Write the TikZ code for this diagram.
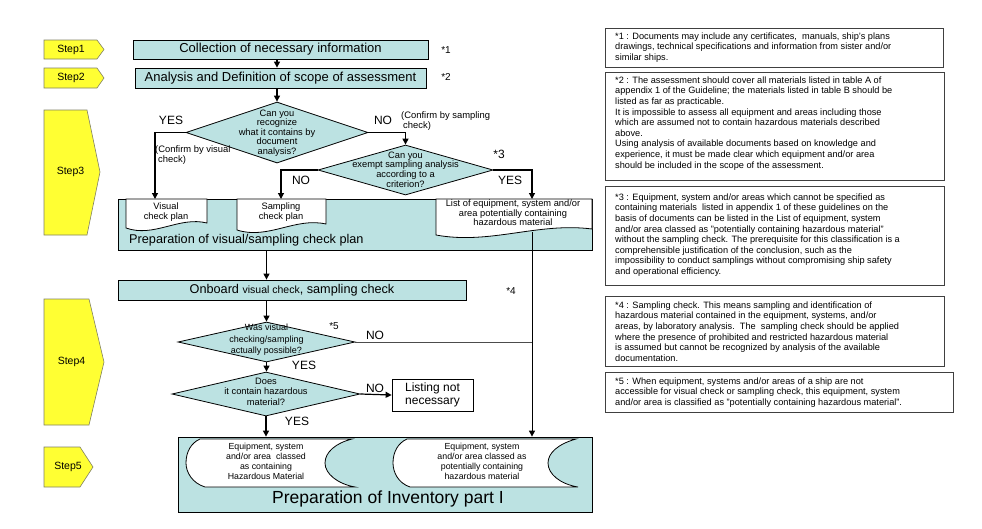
\documentclass[tikz,border=0pt]{standalone}
\usepackage{fontspec}
\setmainfont{Liberation Sans}
\usetikzlibrary{shapes.geometric,arrows.meta,calc}
\definecolor{boxfill}{RGB}{188,226,226}
\definecolor{stepfill}{RGB}{255,255,51}
\definecolor{stepline}{RGB}{128,128,100}
\begin{document}
\begin{tikzpicture}[x=1pt,y=-1pt,
  proc/.style={draw=black,line width=0.8pt,fill=boxfill,inner sep=0pt},
  dia/.style={diamond,draw=black,line width=0.8pt,fill=boxfill,inner sep=0pt},
  stepshape/.style={draw=stepline,line width=0.6pt,fill=stepfill},
  docshape/.style={draw=black,line width=0.8pt,fill=white},
  notebox/.style={draw=black!75,line width=0.8pt,inner sep=0pt},
  arr/.style={line width=1.2pt,-{Triangle[length=6pt,width=6pt]}},
  thinline/.style={line width=0.6pt,draw=black!70},
  f/.style 2 args={font=\fontsize{#1}{#2}\selectfont},
  ntext/.style={f={9.2}{10.6},align=left,anchor=north west,inner sep=0pt},
  dtext/.style={f={9.3}{9.6},align=center,inner sep=0pt},
  yn/.style={f={12}{14},inner sep=0pt},
  star/.style={f={10}{12},inner sep=0pt},
  steptext/.style={f={10.5}{12},inner sep=0pt}
]
\useasboundingbox (0,0) rectangle (982,528);

% ---------- step markers ----------
\draw[stepshape] (44,40) -- (97,40) -- (104,49.5) -- (97,59) -- (44,59) -- cycle;
\node[steptext] (s1) at (71,49.5) {Step1};
\draw[stepshape] (44,68) -- (97,68) -- (104,78) -- (97,88) -- (44,88) -- cycle;
\node[steptext] (s2) at (71,78) {Step2};
\draw[stepshape] (44,110) -- (87,110) -- (100,172) -- (87,235) -- (44,235) -- cycle;
\node[steptext] (s3) at (70.5,172) {Step3};
\draw[stepshape] (44,299) -- (89,299) -- (104,362) -- (89,425) -- (44,425) -- cycle;
\node[steptext] (s4) at (71.5,362) {Step4};
\draw[stepshape] (44,447) -- (80,447) -- (93,467) -- (80,487) -- (44,487) -- cycle;
\node[steptext] (s5) at (68,467) {Step5};

% ---------- top boxes ----------
\node[proc,minimum width=295,minimum height=19,f={13}{15}] (b1) at (280.5,49.5) {Collection of necessary information};
\node[proc,minimum width=291,minimum height=20,f={13}{15}] (b2) at (280.5,78) {Analysis and Definition of scope of assessment};
\node[star] (st1) at (446,50) {*1};
\node[star] (st2) at (446,77) {*2};

% ---------- diamonds 1 and 2 ----------
\node[dia,minimum width=182,minimum height=61] (d1) at (277,132.5) {};
\node[dtext] (d1t) at (277,133) {Can you\\recognize\\what it contains by\\document\\analysis?};
\node[dia,minimum width=175,minimum height=50] (d2) at (405.5,170) {};
\node[dtext] (d2t) at (405.5,169.5) {Can you\\exempt sampling analysis\\according to a\\criterion?};

\draw[arr] (b1.south -| d1.north) -- (b2.north -| d1.north);
\draw[arr] (b2.south -| d1.north) -- (d1.north);

\node[yn] (y1) at (171,120) {YES};
\node[yn] (n1) at (383,120) {NO};
\node[f={9.4}{10},align=left,anchor=west,inner sep=0pt] (c1) at (401,121) {(Confirm by sampling\\\hspace*{2pt}check)};
\node[star,f={12}{14}] (st3) at (499,154) {*3};
\node[yn] (n2) at (301,180) {NO};
\node[yn] (y2) at (510,180) {YES};

% ---------- check plan box ----------
\node[proc,minimum width=474,minimum height=51] (bp) at (355,224.5) {};
\draw[docshape] (126,199) -- (207,199) -- (207,223) .. controls (179,216) and (154,238) .. (126,228) -- cycle;
\node[dtext] (vtx) at (166,212) {Visual\\check plan};
\draw[docshape] (237,199) -- (326,199) -- (326,224) .. controls (295,217) and (268,240) .. (237,230) -- cycle;
\node[dtext] (stx) at (281,212) {Sampling\\check plan};
\draw[docshape] (436,199) -- (592,199) -- (592,229) .. controls (538,222) and (490,245) .. (436,235) -- cycle;
\node[dtext] (ltx) at (513,213) {List of equipment, system and/or\\area potentially containing\\hazardous material};
\node[anchor=west,f={12.7}{14},inner sep=0pt] (bpt) at (129,240) {Preparation of visual/sampling check plan};

\coordinate (vtop) at (155,199);
\coordinate (stop) at (281,199);
\coordinate (ltop) at (532,199);
\coordinate (lbot) at (532,232);
\draw[arr] (d1.west) -| (vtop);
\draw[arr] (d1.east) -| (d2.north);
\draw[arr] (d2.west) -| (stop);
\draw[arr] (d2.east) -| (ltop);
\node[f={9.4}{10},align=left,anchor=west,inner sep=0pt] (c2) at (155,155) {(Confirm by visual\\\hspace*{3pt}check)};

% ---------- onboard ----------
\node[proc,minimum width=348,minimum height=20,f={12.7}{14}] (ob) at (292,290) {Onboard {\fontsize{10.5}{12}\selectfont visual check}, sampling check};
\node[star] (st4) at (511,291) {*4};

\node[dia,minimum width=177,minimum height=40] (d3) at (266.5,342) {};
\node[dtext,f={9}{11.5}] (d3t) at (266.5,340) {Was visual\\checking/sampling\\actually possible?};
\node[star] (st5) at (334,326) {*5};
\node[dia,minimum width=188,minimum height=44] (d4) at (266,394) {};
\node[dtext,f={9.3}{10.5}] (d4t) at (266,391.5) {Does\\it contain hazardous\\material?};
\node[draw=black,line width=0.8pt,fill=white,minimum width=81,minimum height=32,inner sep=0pt,align=center,f={12}{12.5}] (ln) at (432.5,395) {Listing not\\necessary};

\node[yn] (n3) at (375,335) {NO};
\node[yn] (y3) at (304,365) {YES};
\node[yn] (n4) at (375,388) {NO};
\node[yn] (y4) at (297,421) {YES};

\draw[arr] (bp.south -| d3.north) -- (ob.north -| d3.north);
\draw[arr] (ob.south -| d3.north) -- (d3.north);
\draw[arr] (d3.south) -- (d3.south |- d4.north);
\draw[arr] (d4.east) -- (ln.west);

% ---------- inventory ----------
\node[proc,minimum width=414,minimum height=75] (inv) at (385,474.5) {};
\draw[docshape] (200,439) -- (352,439) .. controls (336,443) and (325,452) .. (325,463) .. controls (325,474) and (338,484) .. (355,487) -- (205,487) .. controls (192,483) and (186,472) .. (186,463) .. controls (186,452) and (191,443) .. (200,439) -- cycle;
\node[dtext,f={8.8}{10}] (e1) at (266,461) {Equipment, system\\and/or area\ \ classed\\as containing\\Hazardous Material};
\draw[docshape] (407,439) -- (576,439) .. controls (558,444) and (548,453) .. (548,463) .. controls (548,474) and (560,484) .. (578,487) -- (410,487) .. controls (398,483) and (393,472) .. (393,463) .. controls (393,452) and (398,443) .. (407,439) -- cycle;
\node[dtext,f={8.8}{10}] (e2) at (482,461) {Equipment, system\\and/or area classed as\\potentially containing\\hazardous material};
\node[f={17.5}{20},inner sep=0pt] (invt) at (388,499) {Preparation of Inventory part I};

\draw[arr] (d4.south) -- (d4.south |- inv.north);
\draw[arr,line width=1pt] (lbot) -- (lbot |- inv.north);
\draw[thinline] (d3.east) -- (d3.east -| lbot);

% ---------- notes ----------
\node[notebox,minimum width=338,minimum height=39] (nb1) at (774,47.5) {};
\node[ntext] (nt1) at (615,32.5) {*1 : Documents may include any certificates,\ \ manuals, ship's plans\\drawings, technical specifications and information from sister and/or\\similar ships.};
\node[notebox,minimum width=339,minimum height=108] (nb2) at (774.5,126) {};
\node[ntext] (nt2) at (615,76.5) {*2 : The assessment should cover all materials listed in table A of\\appendix 1 of the Guideline; the materials listed in table B should be\\listed as far as practicable.\\It is impossible to assess all equipment and areas including those\\which are assumed not to contain hazardous materials described\\above.\\Using analysis of available documents based on knowledge and\\experience, it must be made clear which equipment and/or area\\should be included in the scope of the assessment.};
\node[notebox,minimum width=339,minimum height=99] (nb3) at (774.5,235.5) {};
\node[ntext] (nt3) at (615,193.5) {*3 : Equipment, system and/or areas which cannot be specified as\\containing materials\ \ listed in appendix 1 of these guidelines on the\\basis of documents can be listed in the List of equipment, system\\and/or area classed as "potentially containing hazardous material"\\without the sampling check. The prerequisite for this classification is a\\comprehensible justification of the conclusion, such as the\\impossibility to conduct samplings without compromising ship safety\\and operational efficiency.};
\node[notebox,minimum width=339,minimum height=70] (nb4) at (774.5,331) {};
\node[ntext] (nt4) at (615,301.5) {*4 : Sampling check. This means sampling and identification of\\hazardous material contained in the equipment, systems, and/or\\areas, by laboratory analysis.\ \ The\ \ sampling check should be applied\\where the presence of prohibited and restricted hazardous material\\is assumed but cannot be recognized by analysis of the available\\documentation.};
\node[notebox,minimum width=348,minimum height=40] (nb5) at (779,392) {};
\node[ntext] (nt5) at (615,377.5) {*5 : When equipment, systems and/or areas of a ship are not\\accessible for visual check or sampling check, this equipment, system\\and/or area is classified as "potentially containing hazardous material".};
\end{tikzpicture}
\end{document}
